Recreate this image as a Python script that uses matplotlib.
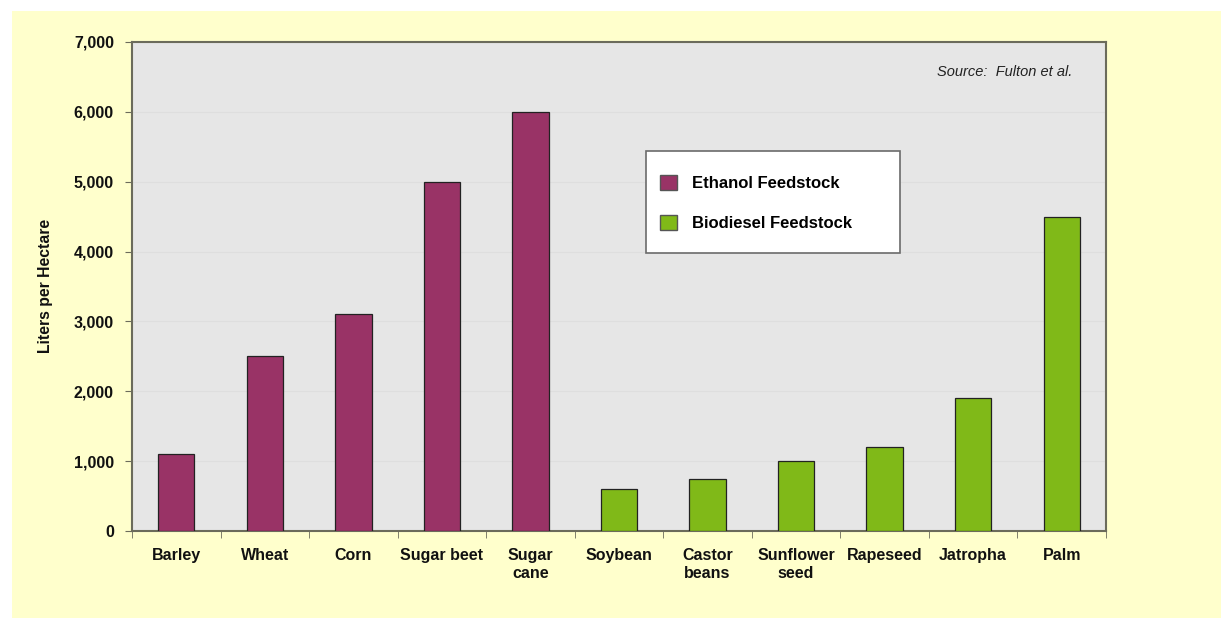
import matplotlib
matplotlib.use("Agg")
import matplotlib.pyplot as plt
from matplotlib.patches import Rectangle, Patch

categories = ["Barley", "Wheat", "Corn", "Sugar beet", "Sugar\ncane",
              "Soybean", "Castor\nbeans", "Sunflower\nseed", "Rapeseed", "Jatropha", "Palm"]
ethanol_values = [1100, 2500, 3100, 5000, 6000]
biodiesel_values = [600, 750, 1000, 1200, 1900, 4500]
yticks = [0, 1000, 2000, 3000, 4000, 5000, 6000, 7000]
ytick_labels = ["0", "1,000", "2,000", "3,000", "4,000", "5,000", "6,000", "7,000"]

PURPLE = "#993366"
GREEN = "#80b918"
W, H = 1221, 618

plt.rcParams['font.family'] = ['Liberation Sans', 'DejaVu Sans']

fig = plt.figure(figsize=(W / 100, H / 100), dpi=100)
fig.patch.set_facecolor("white")
fig.patches.append(Rectangle((12 / W, 0), 1 - 12 / W, 1 - 11 / H, transform=fig.transFigure,
                             facecolor="#ffffcc", edgecolor="none", zorder=-10))

left, right, top, bottom = 132, 1106, 42, 531
ax = fig.add_axes([left / W, 1 - bottom / H, (right - left) / W, (bottom - top) / H])
ax.set_facecolor("#e6e6e6")

def fx(px):
    return (px - left) / (right - left)

def fy(py):
    return 1 - (py - top) / (bottom - top)

n_eth = len(ethanol_values)
x_eth = list(range(n_eth))
x_bio = list(range(n_eth, n_eth + len(biodiesel_values)))
bw = 0.41
ax.bar(x_eth, ethanol_values, width=bw, color=PURPLE, edgecolor="#222222", linewidth=0.9, zorder=3)
ax.bar(x_bio, biodiesel_values, width=bw, color=GREEN, edgecolor="#222222", linewidth=0.9, zorder=3)

ax.set_xlim(-0.5, len(categories) - 0.5)
ax.set_ylim(0, 7000)
ax.set_yticks(yticks)
ax.set_yticklabels(ytick_labels, fontsize=11.5, fontweight="bold", color="#111111")
ax.set_xticks(range(len(categories)))
ax.set_xticklabels(categories, fontsize=11.5, fontweight="bold", color="#111111", linespacing=1.25, va="top")
ax.tick_params(axis="x", length=0, pad=12)
ax.set_xticks([i + 0.5 for i in range(-1, len(categories))], minor=True)
ax.tick_params(axis="x", which="minor", length=5, color="#6b6b5b", direction="out")
ax.tick_params(axis="y", length=5, color="#6b6b5b", pad=8)

ax.yaxis.grid(True, color="#dedede", linewidth=0.8, zorder=0)
ax.set_axisbelow(True)
for s in ax.spines.values():
    s.set_color("#6b6b5b")
    s.set_linewidth(1.5)

fig.text(46 / W, 1 - 286 / H, "Liters per Hectare", rotation=90, ha="center", va="center",
         fontsize=11.3, fontweight="bold", color="#111111")
fig.text(1005 / W, 1 - 72 / H, "Source:  Fulton et al.", ha="center", va="center",
         fontsize=10.5, style="italic", color="#222222")

# legend frame
ax.add_patch(Rectangle((fx(646), fy(253)), fx(900) - fx(646), fy(151) - fy(253),
                       transform=ax.transAxes, facecolor="white", edgecolor="#6b6b6b",
                       linewidth=1.2, zorder=4.5, clip_on=False))
handles = [Patch(facecolor=PURPLE, edgecolor="#555555", label="Ethanol Feedstock"),
           Patch(facecolor=GREEN, edgecolor="#555555", label="Biodiesel Feedstock")]
leg = ax.legend(handles=handles, loc="center left",
                bbox_to_anchor=(fx(660), fy(203)),
                prop={"weight": "bold", "size": 12}, frameon=False,
                borderpad=0, labelspacing=1.4,
                handlelength=1.0, handleheight=1.0, handletextpad=0.9, borderaxespad=0)
leg.set_zorder(5)

fig.savefig("out.png", dpi=100, facecolor=fig.get_facecolor())
